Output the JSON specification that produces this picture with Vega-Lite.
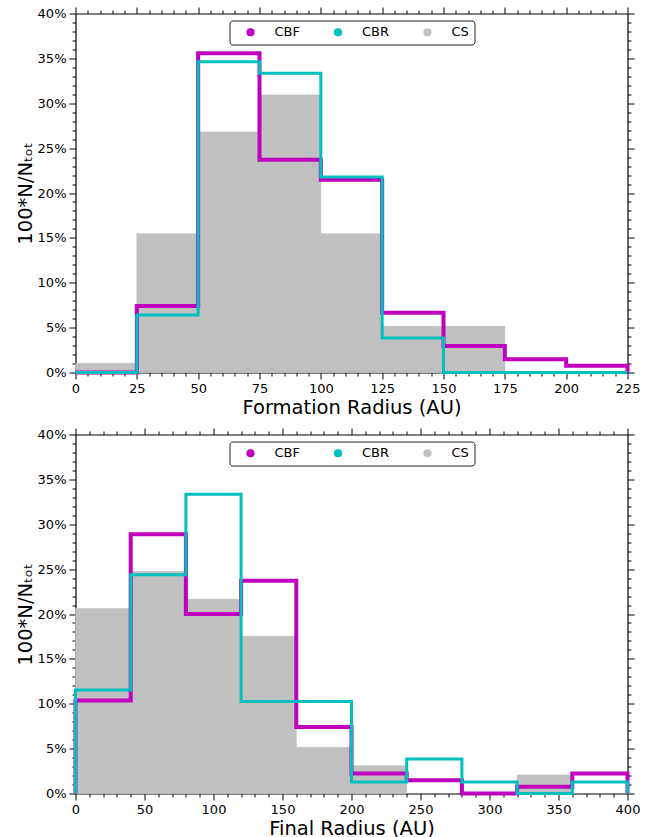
{
  "$schema": "https://vega.github.io/schema/vega-lite/v6.json",
  "padding": {"left": 14.5, "top": 6.5, "right": 5, "bottom": 0},
  "spacing": 11,
  "config": {
    "font": "DejaVu Sans",
    "view": {"stroke": null},
    "axis": {
      "grid": false,
      "domainColor": "black",
      "domainWidth": 1.2,
      "tickColor": "black",
      "tickWidth": 1,
      "labelColor": "black",
      "labelFont": "DejaVu Sans",
      "labelFontSize": 13,
      "labelPadding": 3,
      "labelOverlap": false,
      "labelFlush": false,
      "titleColor": "black",
      "titleFont": "DejaVu Sans",
      "titleFontSize": 19.5,
      "titleFontWeight": "normal"
    },
    "legend": {
      "labelFont": "DejaVu Sans",
      "labelFontSize": 13,
      "labelColor": "black"
    }
  },
  "datasets": {
    "formation_cs": [
      {"series": "CS", "lo": 0, "hi": 25, "pct": 1.03},
      {"series": "CS", "lo": 25, "hi": 50, "pct": 15.46},
      {"series": "CS", "lo": 50, "hi": 75, "pct": 26.8},
      {"series": "CS", "lo": 75, "hi": 100, "pct": 30.93},
      {"series": "CS", "lo": 100, "hi": 125, "pct": 15.46},
      {"series": "CS", "lo": 125, "hi": 150, "pct": 5.15},
      {"series": "CS", "lo": 150, "hi": 175, "pct": 5.15},
      {"series": "CS", "lo": 175, "hi": 200, "pct": 0},
      {"series": "CS", "lo": 200, "hi": 225, "pct": 0}
    ],
    "formation_steps": [
      {"series": "CBF", "k": 0, "r": 0, "pct": 0},
      {"series": "CBF", "k": 1, "r": 0, "pct": 0},
      {"series": "CBF", "k": 2, "r": 25, "pct": 7.41},
      {"series": "CBF", "k": 3, "r": 50, "pct": 35.56},
      {"series": "CBF", "k": 4, "r": 75, "pct": 23.7},
      {"series": "CBF", "k": 5, "r": 100, "pct": 21.48},
      {"series": "CBF", "k": 6, "r": 125, "pct": 6.67},
      {"series": "CBF", "k": 7, "r": 150, "pct": 2.96},
      {"series": "CBF", "k": 8, "r": 175, "pct": 1.48},
      {"series": "CBF", "k": 9, "r": 200, "pct": 0.74},
      {"series": "CBF", "k": 10, "r": 225, "pct": 0.74},
      {"series": "CBF", "k": 11, "r": 225, "pct": 0},
      {"series": "CBR", "k": 0, "r": 0, "pct": 0},
      {"series": "CBR", "k": 1, "r": 0, "pct": 0},
      {"series": "CBR", "k": 2, "r": 25, "pct": 6.41},
      {"series": "CBR", "k": 3, "r": 50, "pct": 34.62},
      {"series": "CBR", "k": 4, "r": 75, "pct": 33.33},
      {"series": "CBR", "k": 5, "r": 100, "pct": 21.79},
      {"series": "CBR", "k": 6, "r": 125, "pct": 3.85},
      {"series": "CBR", "k": 7, "r": 150, "pct": 0},
      {"series": "CBR", "k": 8, "r": 175, "pct": 0},
      {"series": "CBR", "k": 9, "r": 200, "pct": 0},
      {"series": "CBR", "k": 10, "r": 225, "pct": 0},
      {"series": "CBR", "k": 11, "r": 225, "pct": 0}
    ],
    "final_cs": [
      {"series": "CS", "lo": 0, "hi": 40, "pct": 20.62},
      {"series": "CS", "lo": 40, "hi": 80, "pct": 24.74},
      {"series": "CS", "lo": 80, "hi": 120, "pct": 21.65},
      {"series": "CS", "lo": 120, "hi": 160, "pct": 17.53},
      {"series": "CS", "lo": 160, "hi": 200, "pct": 5.15},
      {"series": "CS", "lo": 200, "hi": 240, "pct": 3.09},
      {"series": "CS", "lo": 240, "hi": 280, "pct": 0},
      {"series": "CS", "lo": 280, "hi": 320, "pct": 0},
      {"series": "CS", "lo": 320, "hi": 360, "pct": 2.06},
      {"series": "CS", "lo": 360, "hi": 400, "pct": 0}
    ],
    "final_steps": [
      {"series": "CBF", "k": 0, "r": 0, "pct": 0},
      {"series": "CBF", "k": 1, "r": 0, "pct": 10.37},
      {"series": "CBF", "k": 2, "r": 40, "pct": 28.89},
      {"series": "CBF", "k": 3, "r": 80, "pct": 20.0},
      {"series": "CBF", "k": 4, "r": 120, "pct": 23.7},
      {"series": "CBF", "k": 5, "r": 160, "pct": 7.41},
      {"series": "CBF", "k": 6, "r": 200, "pct": 2.22},
      {"series": "CBF", "k": 7, "r": 240, "pct": 1.48},
      {"series": "CBF", "k": 8, "r": 280, "pct": 0},
      {"series": "CBF", "k": 9, "r": 320, "pct": 0.74},
      {"series": "CBF", "k": 10, "r": 360, "pct": 2.22},
      {"series": "CBF", "k": 11, "r": 400, "pct": 2.22},
      {"series": "CBF", "k": 12, "r": 400, "pct": 0},
      {"series": "CBR", "k": 0, "r": 0, "pct": 0},
      {"series": "CBR", "k": 1, "r": 0, "pct": 11.54},
      {"series": "CBR", "k": 2, "r": 40, "pct": 24.36},
      {"series": "CBR", "k": 3, "r": 80, "pct": 33.33},
      {"series": "CBR", "k": 4, "r": 120, "pct": 10.26},
      {"series": "CBR", "k": 5, "r": 160, "pct": 10.26},
      {"series": "CBR", "k": 6, "r": 200, "pct": 1.28},
      {"series": "CBR", "k": 7, "r": 240, "pct": 3.85},
      {"series": "CBR", "k": 8, "r": 280, "pct": 1.28},
      {"series": "CBR", "k": 9, "r": 320, "pct": 0},
      {"series": "CBR", "k": 10, "r": 360, "pct": 1.28},
      {"series": "CBR", "k": 11, "r": 400, "pct": 1.28},
      {"series": "CBR", "k": 12, "r": 400, "pct": 0}
    ]
  },
  "resolve": {"scale": {"color": "independent"}},
  "vconcat": [
    {
      "width": 552,
      "height": 359,
      "resolve": {"axis": {"x": "independent", "y": "independent"}},
      "layer": [
        {
          "data": {"name": "formation_cs"},
          "transform": [{"filter": "datum.pct > 0"}],
          "mark": {"type": "rect", "strokeWidth": 0.6},
          "encoding": {
            "x": {
              "field": "lo", "type": "quantitative",
              "scale": {"domain": [0, 225], "nice": false, "zero": false},
              "axis": {
                "orient": "bottom",
                "title": "Formation Radius (AU)",
                "titlePadding": 3,
                "values": [0,5,10,15,20,25,30,35,40,45,50,55,60,65,70,75,80,85,90,95,100,105,110,115,120,125,130,135,140,145,150,155,160,165,170,175,180,185,190,195,200,205,210,215,220,225],
                "labelExpr": "datum.value % 25 === 0 ? datum.label : ''",
                "tickSize": {"condition": {"test": "datum.value % 25 === 0", "value": 6.5}, "value": 3.5}
              }
            },
            "x2": {"field": "hi"},
            "y": {
              "field": "pct", "type": "quantitative",
              "scale": {"domain": [0, 40], "nice": false, "zero": true},
              "axis": {
                "orient": "left",
                "title": "100*N/N\u209c\u2092\u209c",
                "titlePadding": 2,
                "values": [0,1,2,3,4,5,6,7,8,9,10,11,12,13,14,15,16,17,18,19,20,21,22,23,24,25,26,27,28,29,30,31,32,33,34,35,36,37,38,39,40],
                "labelExpr": "datum.value % 5 === 0 ? datum.value + '%' : ''",
                "tickSize": {"condition": {"test": "datum.value % 5 === 0", "value": 6.5}, "value": 3.5}
              }
            },
            "y2": {"datum": 0},
            "color": {
              "field": "series", "type": "nominal",
              "scale": {"domain": ["CBF", "CBR", "CS"], "range": ["#bf00bf", "#00bfbf", "#c0c0c0"]},
              "legend": {
                "title": null,
                "orient": "none",
                "legendX": 154,
                "legendY": 7,
                "direction": "horizontal",
                "columns": 3,
                "symbolType": "circle",
                "symbolSize": 45,
                "symbolOffset": 9.5,
                "labelOffset": 17.5,
                "columnPadding": 21.5,
                "padding": 5,
                "strokeColor": "#222222",
                "fillColor": "white",
                "cornerRadius": 3
              }
            },
            "stroke": {"field": "series", "type": "nominal", "scale": {"domain": ["CBF", "CBR", "CS"], "range": ["#bf00bf", "#00bfbf", "#c0c0c0"]}, "legend": null}
          }
        },
        {
          "data": {"name": "formation_steps"},
          "transform": [{"filter": "datum.series === 'CBF'"}],
          "mark": {"type": "line", "interpolate": "step-after", "strokeWidth": 4, "strokeJoin": "miter", "strokeCap": "butt"},
          "encoding": {
            "x": {
              "field": "r", "type": "quantitative",
              "axis": {
                "orient": "top", "title": null, "labels": false,
                "values": [0,5,10,15,20,25,30,35,40,45,50,55,60,65,70,75,80,85,90,95,100,105,110,115,120,125,130,135,140,145,150,155,160,165,170,175,180,185,190,195,200,205,210,215,220,225],
                "tickSize": {"condition": {"test": "datum.value % 25 === 0", "value": 6.5}, "value": 3.5}
              }
            },
            "y": {
              "field": "pct", "type": "quantitative",
              "axis": {
                "orient": "right", "title": null, "labels": false,
                "values": [0,1,2,3,4,5,6,7,8,9,10,11,12,13,14,15,16,17,18,19,20,21,22,23,24,25,26,27,28,29,30,31,32,33,34,35,36,37,38,39,40],
                "tickSize": {"condition": {"test": "datum.value % 5 === 0", "value": 6.5}, "value": 3.5}
              }
            },
            "order": {"field": "k", "type": "quantitative"},
            "color": {"field": "series", "type": "nominal", "legend": null}
          }
        },
        {
          "data": {"name": "formation_steps"},
          "transform": [{"filter": "datum.series === 'CBR'"}],
          "mark": {"type": "line", "interpolate": "step-after", "strokeWidth": 3, "strokeJoin": "miter", "strokeCap": "butt"},
          "encoding": {
            "x": {"field": "r", "type": "quantitative", "axis": null},
            "y": {"field": "pct", "type": "quantitative", "axis": null},
            "order": {"field": "k", "type": "quantitative"},
            "color": {"field": "series", "type": "nominal", "legend": null}
          }
        }
      ]
    },
    {
      "width": 552,
      "height": 359,
      "resolve": {"axis": {"x": "independent", "y": "independent"}},
      "layer": [
        {
          "data": {"name": "final_cs"},
          "transform": [{"filter": "datum.pct > 0"}],
          "mark": {"type": "rect", "strokeWidth": 0.6},
          "encoding": {
            "x": {
              "field": "lo", "type": "quantitative",
              "scale": {"domain": [0, 400], "nice": false, "zero": false},
              "axis": {
                "orient": "bottom",
                "title": "Final Radius (AU)",
                "titlePadding": 3,
                "values": [0,10,20,30,40,50,60,70,80,90,100,110,120,130,140,150,160,170,180,190,200,210,220,230,240,250,260,270,280,290,300,310,320,330,340,350,360,370,380,390,400],
                "labelExpr": "datum.value % 50 === 0 ? datum.label : ''",
                "tickSize": {"condition": {"test": "datum.value % 50 === 0", "value": 6.5}, "value": 3.5}
              }
            },
            "x2": {"field": "hi"},
            "y": {
              "field": "pct", "type": "quantitative",
              "scale": {"domain": [0, 40], "nice": false, "zero": true},
              "axis": {
                "orient": "left",
                "title": "100*N/N\u209c\u2092\u209c",
                "titlePadding": 2,
                "values": [0,1,2,3,4,5,6,7,8,9,10,11,12,13,14,15,16,17,18,19,20,21,22,23,24,25,26,27,28,29,30,31,32,33,34,35,36,37,38,39,40],
                "labelExpr": "datum.value % 5 === 0 ? datum.value + '%' : ''",
                "tickSize": {"condition": {"test": "datum.value % 5 === 0", "value": 6.5}, "value": 3.5}
              }
            },
            "y2": {"datum": 0},
            "color": {
              "field": "series", "type": "nominal",
              "scale": {"domain": ["CBF", "CBR", "CS"], "range": ["#bf00bf", "#00bfbf", "#c0c0c0"]},
              "legend": {
                "title": null,
                "orient": "none",
                "legendX": 154,
                "legendY": 7,
                "direction": "horizontal",
                "columns": 3,
                "symbolType": "circle",
                "symbolSize": 45,
                "symbolOffset": 9.5,
                "labelOffset": 17.5,
                "columnPadding": 21.5,
                "padding": 5,
                "strokeColor": "#222222",
                "fillColor": "white",
                "cornerRadius": 3
              }
            },
            "stroke": {"field": "series", "type": "nominal", "scale": {"domain": ["CBF", "CBR", "CS"], "range": ["#bf00bf", "#00bfbf", "#c0c0c0"]}, "legend": null}
          }
        },
        {
          "data": {"name": "final_steps"},
          "transform": [{"filter": "datum.series === 'CBF'"}],
          "mark": {"type": "line", "interpolate": "step-after", "strokeWidth": 4, "strokeJoin": "miter", "strokeCap": "butt"},
          "encoding": {
            "x": {
              "field": "r", "type": "quantitative",
              "axis": {
                "orient": "top", "title": null, "labels": false,
                "values": [0,10,20,30,40,50,60,70,80,90,100,110,120,130,140,150,160,170,180,190,200,210,220,230,240,250,260,270,280,290,300,310,320,330,340,350,360,370,380,390,400],
                "tickSize": {"condition": {"test": "datum.value % 50 === 0", "value": 6.5}, "value": 3.5}
              }
            },
            "y": {
              "field": "pct", "type": "quantitative",
              "axis": {
                "orient": "right", "title": null, "labels": false,
                "values": [0,1,2,3,4,5,6,7,8,9,10,11,12,13,14,15,16,17,18,19,20,21,22,23,24,25,26,27,28,29,30,31,32,33,34,35,36,37,38,39,40],
                "tickSize": {"condition": {"test": "datum.value % 5 === 0", "value": 6.5}, "value": 3.5}
              }
            },
            "order": {"field": "k", "type": "quantitative"},
            "color": {"field": "series", "type": "nominal", "legend": null}
          }
        },
        {
          "data": {"name": "final_steps"},
          "transform": [{"filter": "datum.series === 'CBR'"}],
          "mark": {"type": "line", "interpolate": "step-after", "strokeWidth": 3, "strokeJoin": "miter", "strokeCap": "butt"},
          "encoding": {
            "x": {"field": "r", "type": "quantitative", "axis": null},
            "y": {"field": "pct", "type": "quantitative", "axis": null},
            "order": {"field": "k", "type": "quantitative"},
            "color": {"field": "series", "type": "nominal", "legend": null}
          }
        }
      ]
    }
  ]
}
